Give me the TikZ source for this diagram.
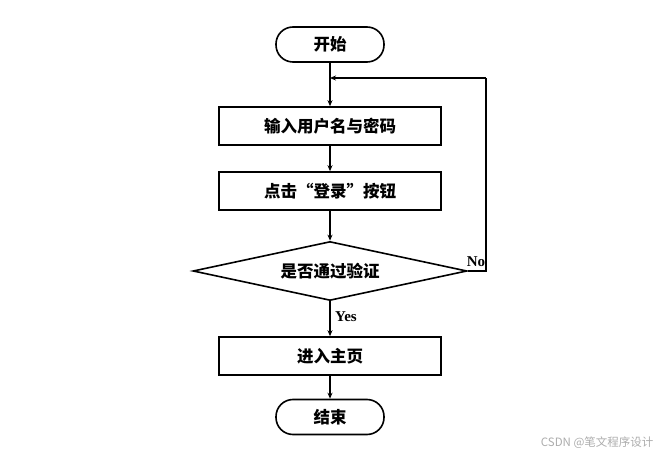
\documentclass[tikz,border=0pt]{standalone}
\usepackage{fontspec}
\setmainfont{Liberation Serif}
\newfontfamily\cjk{Noto Sans CJK SC}
\usetikzlibrary{shapes.geometric,arrows.meta}
\begin{document}
\begin{tikzpicture}[x=1pt,y=-1pt,
  every node/.style={font=\cjk\bfseries\fontsize{16.5}{19}\selectfont},
  term/.style={draw,line width=1.6pt,rounded corners=17pt,minimum width=108pt,minimum height=35pt,inner sep=0pt},
  procbox/.style={draw,line width=1.6pt,minimum width=222pt,minimum height=38pt,inner sep=0pt},
  decis/.style={draw,line width=1.6pt,diamond,aspect=4.66,minimum width=274pt,minimum height=59pt,inner sep=0pt},
  conn/.style={line width=1.6pt,-{Stealth[length=6pt,width=5pt]}},
  lbl/.style={font=\bfseries\fontsize{15}{17}\selectfont}]
\useasboundingbox (0,0) rectangle (661,457);
\node[term] (start) at (330,44.5) {开始};
\node[procbox] (input) at (330,126) {输入用户名与密码};
\node[procbox] (click) at (330,191) {点击“登录”按钮};
\node[decis] (check) at (330,271) {是否通过验证};
\node[procbox] (home) at (330,356) {进入主页};
\node[term] (stop) at (330,417) {结束};
\coordinate (loopA) at (486,271);
\coordinate (loopB) at (486,78);
\coordinate (loopC) at (330,78);
\draw[conn] (start) -- (input);
\draw[conn] (input) -- (click);
\draw[conn] (click) -- (check.north);
\draw[conn] (check.south) -- node[lbl,right,pos=0.45,xshift=1pt]{Yes} (home);
\draw[conn] (home) -- (stop);
\draw[line width=1.6pt] (check.east) -- (loopA) -- (loopB);
\draw[conn] (loopB) -- (loopC);
\node[lbl,anchor=south] (nolbl) at (476,270) {No};
\node[font=\cjk\fontsize{11.5}{13}\selectfont,text=gray!65,anchor=east] (wm) at (657,443) {CSDN @笔文程序设计};
\end{tikzpicture}
\end{document}
